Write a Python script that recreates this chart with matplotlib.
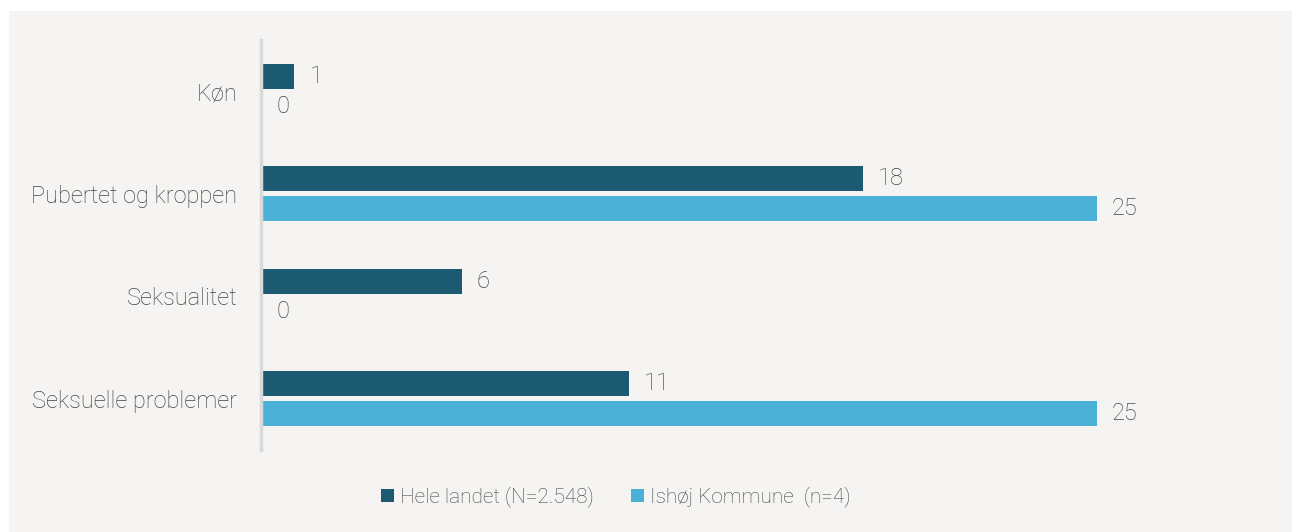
import numpy as np
import matplotlib.pyplot as plt
from matplotlib.patches import Rectangle

# data
categories = ["Køn", "Pubertet og kroppen", "Seksualitet", "Seksuelle problemer"]
hele_landet = [1, 18, 6, 11]
ishoej = [0, 25, 0, 25]
series_names = ["Hele landet (N=2.548)", "Ishøj Kommune  (n=4)"]

dark = "#1b5a70"
light = "#4bb0d6"
txt = "#444444"

plt.rcParams['font.family'] = ['Roboto', 'DejaVu Sans']

W, H = 1292, 532
fig = plt.figure(figsize=(W / 100, H / 100), dpi=100)
fig.patch.set_facecolor("white")

# grey panel behind chart
fig.patches.append(Rectangle((9 / W, 0), 1 - 9 / W, 1 - 11 / H,
                             transform=fig.transFigure, facecolor="#f5f4f2",
                             edgecolor="none", zorder=-10))

ax = fig.add_axes([261 / W, 82 / H, 1003 / W, 410 / H])
ax.set_facecolor("none")
ax.set_zorder(5)

y = np.arange(len(categories))
bh = 0.245
off = 0.147
ax.barh(y - off, hele_landet, height=bh, color=dark, label=series_names[0])
ax.barh(y + off, ishoej, height=bh, color=light, label=series_names[1])

fs = 17
for yi, v in zip(y, hele_landet):
    ax.text(v + 0.45, yi - off, str(v), va="center", ha="left",
            fontsize=fs, color=txt, fontweight="light")
for yi, v in zip(y, ishoej):
    ax.text(v + 0.45, yi + off, str(v), va="center", ha="left",
            fontsize=fs, color=txt, fontweight="light")

ax.set_xlim(0, 30)
ax.set_ylim(len(categories) - 0.5, -0.5)
ax.set_yticks(y)
ax.set_yticklabels(categories, fontsize=fs, color=txt, fontweight="light")
ax.tick_params(axis="y", length=0, pad=17)
ax.set_xticks([])
for s in ["top", "right", "bottom"]:
    ax.spines[s].set_visible(False)
ax.spines["left"].set_color("#d9d9d9")
ax.spines["left"].set_linewidth(2.5)

leg = fig.legend(loc="center", bbox_to_anchor=(616 / W, 1 - 497 / H), ncol=2,
                 frameon=False, fontsize=15, handlelength=0.6, handleheight=0.6,
                 handletextpad=0.3, columnspacing=1.8)
for t in leg.get_texts():
    t.set_color(txt)
    t.set_fontweight("light")

fig.savefig("out.png", dpi=100, facecolor=fig.get_facecolor())
